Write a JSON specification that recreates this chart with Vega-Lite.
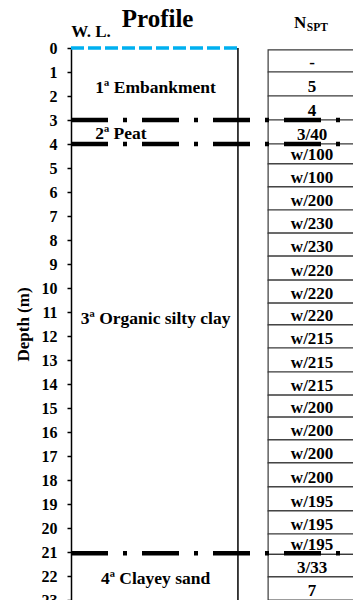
{
  "$schema": "https://vega.github.io/schema/vega-lite/v6.json",
  "width": 282,
  "height": 552,
  "autosize": {"type": "none"},
  "padding": {"left": 71, "top": 48, "right": 0, "bottom": 0},
  "background": "white",
  "config": {
    "view": {"stroke": null},
    "axis": {
      "domainColor": "black", "domainWidth": 1.5,
      "tickColor": "black", "tickWidth": 1.5, "tickSize": 4,
      "labelFont": "Liberation Serif", "labelFontWeight": "bold", "labelFontSize": 16,
      "labelColor": "black", "labelPadding": 10,
      "titleFont": "Liberation Serif", "titleFontWeight": "bold", "titleFontSize": 17,
      "titleColor": "black", "titlePadding": 9,
      "grid": false, "tickCount": 23
    },
    "text": {"font": "Liberation Serif", "fontWeight": "bold", "color": "black"}
  },
  "datasets": {
    "nspt": [
      {"n": "-", "top": 0.08, "bottom": 1},
      {"n": "5", "top": 1, "bottom": 2},
      {"n": "4", "top": 2, "bottom": 3},
      {"n": "3/40", "top": 3, "bottom": 4},
      {"n": "w/100", "top": 4, "bottom": 4.83},
      {"n": "w/100", "top": 4.83, "bottom": 5.79},
      {"n": "w/200", "top": 5.79, "bottom": 6.75},
      {"n": "w/230", "top": 6.75, "bottom": 7.71},
      {"n": "w/230", "top": 7.71, "bottom": 8.67},
      {"n": "w/220", "top": 8.67, "bottom": 9.67},
      {"n": "w/220", "top": 9.67, "bottom": 10.63},
      {"n": "w/220", "top": 10.63, "bottom": 11.54},
      {"n": "w/215", "top": 11.54, "bottom": 12.5},
      {"n": "w/215", "top": 12.5, "bottom": 13.5},
      {"n": "w/215", "top": 13.5, "bottom": 14.46},
      {"n": "w/200", "top": 14.46, "bottom": 15.38},
      {"n": "w/200", "top": 15.38, "bottom": 16.33},
      {"n": "w/200", "top": 16.33, "bottom": 17.29},
      {"n": "w/200", "top": 17.29, "bottom": 18.29},
      {"n": "w/195", "top": 18.29, "bottom": 19.29},
      {"n": "w/195", "top": 19.29, "bottom": 20.25},
      {"n": "w/195", "top": 20.25, "bottom": 21.1},
      {"n": "3/33", "top": 21.1, "bottom": 22.04},
      {"n": "7", "top": 22.04, "bottom": 23}
    ],
    "boundaries": [
      {"depth": 3},
      {"depth": 4},
      {"depth": 21.05}
    ],
    "strata": [
      {"layer": "1ª Embankment", "depth": 1.86},
      {"layer": "2ª Peat", "depth": 3.78},
      {"layer": "3ª Organic silty clay", "depth": 11.48},
      {"layer": "4ª Clayey sand", "depth": 22.33}
    ]
  },
  "layer": [
    {
      "data": {"name": "nspt"},
      "mark": {"type": "rect", "fill": "white", "stroke": "#3a3a3a", "strokeWidth": 1.2, "clip": true},
      "encoding": {
        "x": {"datum": 69.9, "type": "quantitative", "scale": {"domain": [0, 100], "nice": false, "zero": false}, "axis": null},
        "x2": {"datum": 103},
        "y": {"field": "top", "type": "quantitative", "scale": {"domain": [0, 23], "reverse": true, "nice": false, "zero": false}, "title": "Depth (m)"},
        "y2": {"field": "bottom"}
      }
    },
    {
      "data": {"name": "nspt"},
      "mark": {"type": "text", "align": "center", "baseline": "alphabetic", "dy": -4, "fontSize": 17},
      "encoding": {
        "x": {"datum": 85.5, "type": "quantitative", "axis": null},
        "y": {"field": "bottom", "type": "quantitative", "title": "Depth (m)"},
        "text": {"field": "n"}
      }
    },
    {
      "data": {"values": [{}]},
      "mark": {"type": "rule", "color": "black", "strokeWidth": 1.5},
      "encoding": {
        "x": {"datum": 59.2, "type": "quantitative", "axis": null},
        "y": {"datum": 0, "type": "quantitative", "title": "Depth (m)"},
        "y2": {"datum": 23}
      }
    },
    {
      "data": {"values": [{}]},
      "mark": {"type": "rule", "color": "#00B0F0", "strokeWidth": 3.5, "strokeDash": [13, 4]},
      "encoding": {
        "x": {"datum": 0, "type": "quantitative", "axis": null},
        "x2": {"datum": 59.2},
        "y": {"datum": 0, "type": "quantitative", "title": "Depth (m)"}
      }
    },
    {
      "data": {"name": "boundaries"},
      "mark": {"type": "rule", "color": "black", "strokeWidth": 4.5, "strokeDash": [37, 15, 4, 15], "strokeCap": "butt"},
      "encoding": {
        "x": {"datum": 0, "type": "quantitative", "axis": null},
        "x2": {"datum": 100},
        "y": {"field": "depth", "type": "quantitative", "title": "Depth (m)"}
      }
    },
    {
      "data": {"name": "strata"},
      "transform": [{"filter": "datum.layer != '2ª Peat'"}],
      "mark": {"type": "text", "align": "center", "baseline": "alphabetic", "fontSize": 17.5},
      "encoding": {
        "x": {"datum": 30.0, "type": "quantitative", "axis": null},
        "y": {"field": "depth", "type": "quantitative", "title": "Depth (m)"},
        "text": {"field": "layer"}
      }
    },
    {
      "data": {"name": "strata"},
      "transform": [{"filter": "datum.layer == '2ª Peat'"}],
      "mark": {"type": "text", "align": "center", "baseline": "alphabetic", "fontSize": 17.5},
      "encoding": {
        "x": {"datum": 17.7, "type": "quantitative", "axis": null},
        "y": {"field": "depth", "type": "quantitative", "title": "Depth (m)"},
        "text": {"field": "layer"}
      }
    },
    {
      "data": {"values": [{"label": "Profile"}]},
      "mark": {"type": "text", "align": "center", "baseline": "alphabetic", "fontSize": 25},
      "encoding": {
        "x": {"datum": 30.7, "type": "quantitative", "axis": null},
        "y": {"datum": -0.875, "type": "quantitative", "title": "Depth (m)"},
        "text": {"field": "label"}
      }
    },
    {
      "data": {"values": [{"label": "W. L."}]},
      "mark": {"type": "text", "align": "center", "baseline": "alphabetic", "fontSize": 17},
      "encoding": {
        "x": {"datum": 7.1, "type": "quantitative", "axis": null},
        "y": {"datum": -0.47, "type": "quantitative", "title": "Depth (m)"},
        "text": {"field": "label"}
      }
    },
    {
      "data": {"values": [{"label": "N"}]},
      "mark": {"type": "text", "align": "left", "baseline": "alphabetic", "fontSize": 17},
      "encoding": {
        "x": {"datum": 79.1, "type": "quantitative", "axis": null},
        "y": {"datum": -0.82, "type": "quantitative", "title": "Depth (m)"},
        "text": {"field": "label"}
      }
    },
    {
      "data": {"values": [{"label": "SPT"}]},
      "mark": {"type": "text", "align": "left", "baseline": "alphabetic", "fontSize": 11.5},
      "encoding": {
        "x": {"datum": 83.6, "type": "quantitative", "axis": null},
        "y": {"datum": -0.72, "type": "quantitative", "title": "Depth (m)"},
        "text": {"field": "label"}
      }
    }
  ]
}
